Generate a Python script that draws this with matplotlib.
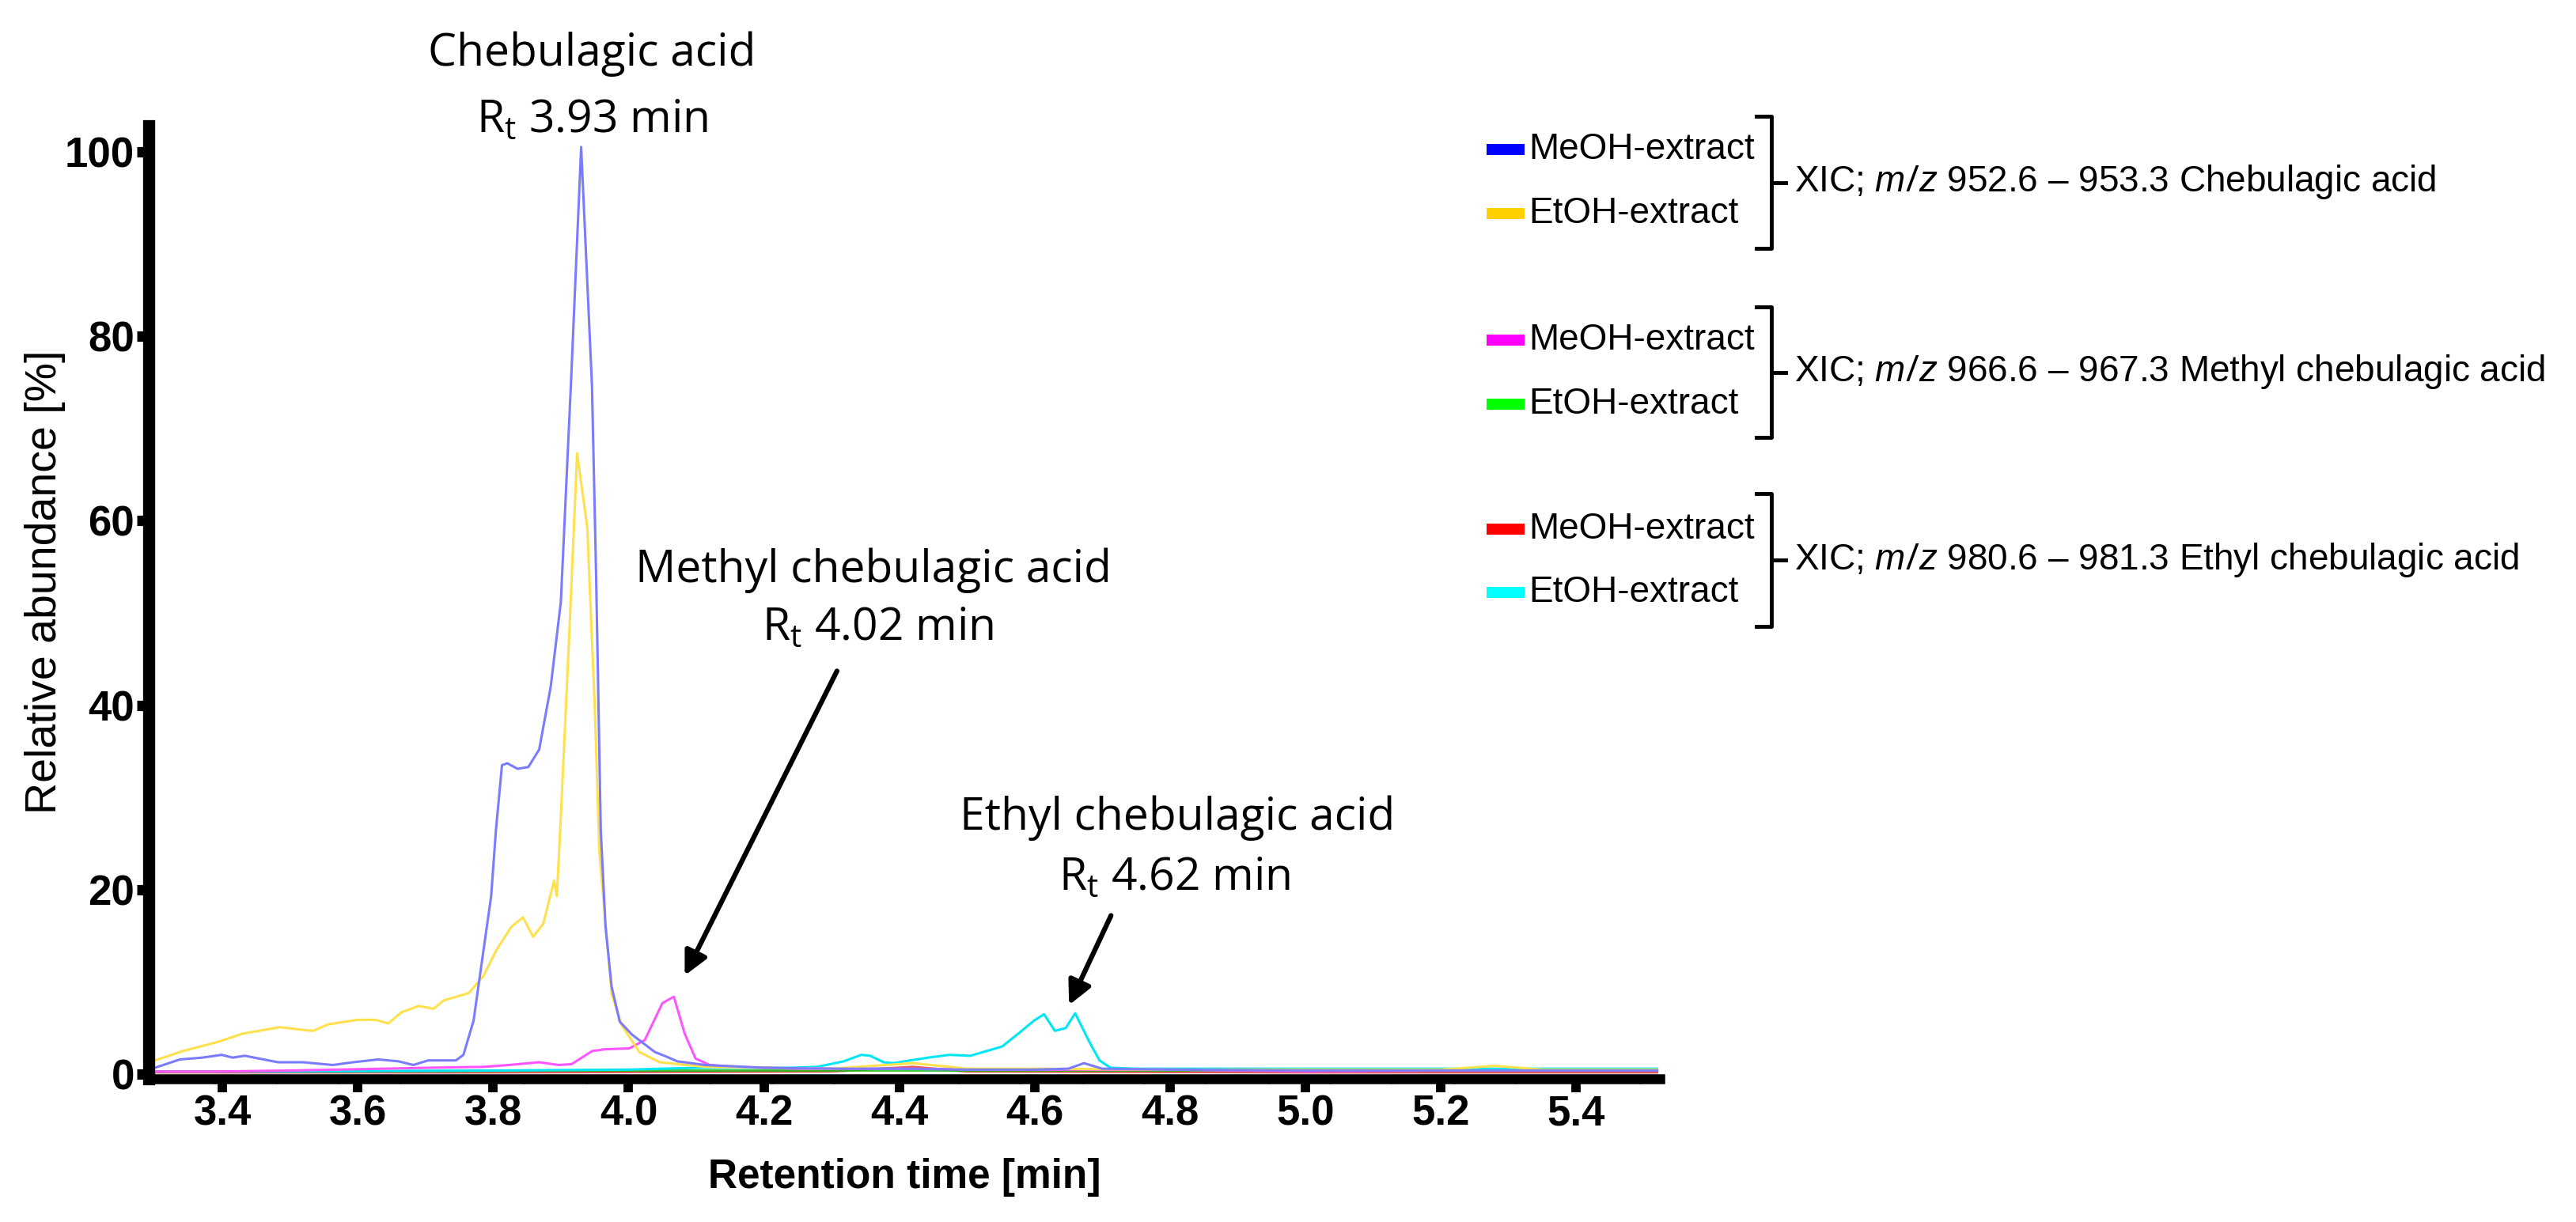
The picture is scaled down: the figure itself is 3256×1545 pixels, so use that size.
import numpy as np
import matplotlib
matplotlib.use("Agg")
import matplotlib.pyplot as plt
from matplotlib.patches import Rectangle
from matplotlib.lines import Line2D

plt.rcParams['mathtext.fontset'] = 'custom'
plt.rcParams['mathtext.rm'] = 'Open Sans'
plt.rcParams['mathtext.it'] = 'Liberation Sans:italic'

# --- data (time in min, relative abundance in %) ---
t_meoh_cheb = [3.29, 3.30, 3.337, 3.37, 3.399, 3.415, 3.433, 3.482, 3.519, 3.563, 3.593,
               3.63, 3.66, 3.682, 3.704, 3.745, 3.756, 3.771, 3.786, 3.797, 3.804, 3.813,
               3.821, 3.836, 3.852, 3.868, 3.885, 3.900, 3.915, 3.930, 3.946, 3.952, 3.959,
               3.966, 3.975, 3.987, 4.005, 4.039, 4.053, 4.072, 4.113, 4.2, 4.3, 4.4, 4.5,
               4.6, 4.65, 4.673, 4.7, 4.8, 5.0, 5.2, 5.4, 5.52]
y_meoh_cheb = [0.6, 0.7, 1.6, 1.8, 2.1, 1.8, 2.0, 1.3, 1.3, 1.0, 1.3,
               1.6, 1.4, 1.0, 1.5, 1.5, 2.1, 5.8, 13.6, 19.3, 26.4, 33.5,
               33.7, 33.1, 33.3, 35.2, 42.0, 51.2, 75.0, 100.5, 74.6, 54.4, 26.4,
               16.0, 9.5, 5.7, 4.3, 2.4, 2.0, 1.4, 1.0, 0.7, 0.6, 0.6, 0.5,
               0.5, 0.6, 1.2, 0.6, 0.5, 0.4, 0.4, 0.4, 0.4]

t_etoh_cheb = [3.29, 3.300, 3.341, 3.393, 3.430, 3.485, 3.519, 3.534, 3.556, 3.600, 3.626,
               3.645, 3.664, 3.690, 3.712, 3.727, 3.764, 3.786, 3.805, 3.827, 3.844, 3.859,
               3.874, 3.890, 3.894, 3.899, 3.912, 3.924, 3.939, 3.950, 3.957, 3.975, 3.990,
               4.016, 4.046, 4.113, 4.2, 4.3, 4.42, 4.5, 4.6, 4.8, 5.0, 5.2, 5.28, 5.35, 5.52]
y_etoh_cheb = [1.3, 1.5, 2.5, 3.5, 4.4, 5.1, 4.8, 4.7, 5.4, 5.9, 5.9,
               5.5, 6.7, 7.4, 7.1, 8.0, 8.8, 10.7, 13.5, 16.0, 17.0, 14.9,
               16.3, 21.0, 19.3, 26.4, 47.0, 67.3, 59.3, 40.0, 24.0, 8.7, 5.3,
               2.4, 1.3, 0.8, 0.7, 0.6, 1.2, 0.6, 0.6, 0.5, 0.5, 0.5, 0.9, 0.5, 0.5]

t_meoh_methyl = [3.29, 3.4, 3.5, 3.638, 3.704, 3.786, 3.823, 3.868, 3.897, 3.916, 3.946,
                 3.964, 4.001, 4.024, 4.050, 4.067, 4.083, 4.099, 4.120, 4.157, 4.25,
                 4.4, 4.6, 4.8, 5.0, 5.2, 5.52]
y_meoh_methyl = [0.3, 0.3, 0.4, 0.6, 0.7, 0.8, 1.0, 1.3, 1.0, 1.1, 2.5,
                 2.7, 2.8, 3.7, 7.7, 8.4, 4.4, 1.7, 1.0, 0.8, 0.6,
                 0.6, 0.5, 0.5, 0.3, 0.4, 0.4]

t_etoh_methyl = [3.29, 3.6, 3.9, 4.2, 4.5, 4.8, 5.1, 5.52]
y_etoh_methyl = [0.3, 0.3, 0.4, 0.4, 0.4, 0.4, 0.4, 0.4]

t_meoh_ethyl = [3.29, 3.8, 4.3, 4.42, 4.5, 5.0, 5.52]
y_meoh_ethyl = [0.2, 0.2, 0.3, 0.8, 0.3, 0.2, 0.2]

t_etoh_ethyl = [3.29, 3.5, 3.8, 4.0, 4.1, 4.2, 4.240, 4.279, 4.318, 4.344, 4.357, 4.377,
                4.392, 4.416, 4.443, 4.474, 4.505, 4.552, 4.576, 4.599, 4.614, 4.630,
                4.646, 4.660, 4.681, 4.696, 4.712, 4.75, 4.9, 5.1, 5.3, 5.52]
y_etoh_ethyl = [0.3, 0.3, 0.4, 0.5, 0.7, 0.7, 0.7, 0.8, 1.4, 2.1, 2.0, 1.3,
                1.2, 1.5, 1.8, 2.1, 2.0, 3.0, 4.4, 5.8, 6.5, 4.7,
                5.0, 6.6, 3.5, 1.5, 0.7, 0.6, 0.6, 0.6, 0.6, 0.6]

x_ticks = [3.4, 3.6, 3.8, 4.0, 4.2, 4.4, 4.6, 4.8, 5.0, 5.2, 5.4]
y_ticks = [0, 20, 40, 60, 80, 100]

legend_labels = ["MeOH-extract", "EtOH-extract"] * 3
legend_colors = ["#0000ff", "#ffd000", "#ff00ff", "#00ff00", "#ff0000", "#00ffff"]
group_labels = [r"XIC; $\mathit{m/z}$ 952.6 – 953.3 Chebulagic acid",
                r"XIC; $\mathit{m/z}$ 966.6 – 967.3 Methyl chebulagic acid",
                r"XIC; $\mathit{m/z}$ 980.6 – 981.3 Ethyl chebulagic acid"]

W, H = 3256, 1545
fig = plt.figure(figsize=(W / 100, H / 100), dpi=100)
ax = fig.add_axes([188 / W, 1 - 1364 / H, (2098 - 188) / W, (1364 - 159) / H])

# baseline traces first, peaks on top
ax.plot(t_meoh_ethyl, y_meoh_ethyl, color="#e03030", lw=2.2, alpha=0.8)
ax.plot(t_etoh_methyl, y_etoh_methyl, color="#10c010", lw=2.2, alpha=0.8)
ax.plot(t_etoh_ethyl, y_etoh_ethyl, color="#00e6f5", lw=2.2)
ax.plot(t_meoh_methyl, y_meoh_methyl, color="#ff55ff", lw=2.2)
ax.plot(t_etoh_cheb, y_etoh_cheb, color="#ffe04d", lw=2.2)
ax.plot(t_meoh_cheb, y_meoh_cheb, color="#7b7bff", lw=2.2)

ax.set_xlim(3.291, 5.524)
ax.set_ylim(-0.5, 102.8)
ax.set_xticks(x_ticks)
ax.set_xticklabels([f"{v:.1f}" for v in x_ticks])
ax.set_yticks(y_ticks)
ax.set_xticks(np.arange(3.296, 5.52, 0.0916), minor=True)

for s in ["top", "right"]:
    ax.spines[s].set_visible(False)
ax.spines["left"].set_linewidth(11)
ax.spines["bottom"].set_linewidth(9)

ax.tick_params(axis="x", which="major", length=12, width=8.5, pad=2, labelsize=38)
ax.tick_params(axis="x", which="minor", length=4, width=2)
ax.tick_params(axis="y", which="major", length=11, width=9.5, pad=2, labelsize=38)
for lab in ax.get_xticklabels() + ax.get_yticklabels():
    lab.set_family("Liberation Sans")
    lab.set_fontweight("bold")

ax.set_xlabel("Retention time [min]", family="Liberation Sans", fontweight="bold",
              fontsize=37, labelpad=22)
ax.set_ylabel("Relative abundance [%]", family="Liberation Sans", fontsize=40)
ax.yaxis.set_label_coords(-0.055, 0.521)

# peak annotations
ann = dict(family="Open Sans", fontsize=41, ha="center", va="center", clip_on=False)
ax.text(3.946, 110.6, "Chebulagic acid", **ann)
ax.text(3.946, 103.4, r"R$_{\mathrm{t}}$ 3.93 min", **ann)
ax.text(4.362, 54.6, "Methyl chebulagic acid", **ann)
ax.text(4.369, 48.3, r"R$_{\mathrm{t}}$ 4.02 min", **ann)
ax.text(4.811, 27.8, "Ethyl chebulagic acid", **ann)
ax.text(4.807, 21.2, r"R$_{\mathrm{t}}$ 4.62 min", **ann)

arrow = dict(arrowstyle="-|>", lw=4.5, color="black", mutation_scale=45, shrinkA=0, shrinkB=0)
ax.annotate("", xy=(4.083, 10.7), xytext=(4.308, 43.7), arrowprops=arrow)
ax.annotate("", xy=(4.651, 7.5), xytext=(4.713, 17.2), arrowprops=arrow)

# custom legend with brackets
row_y = [189, 270, 430, 511, 669, 749]
for py, lab, col in zip(row_y, legend_labels, legend_colors):
    fig.add_artist(Rectangle((1879 / W, 1 - (py + 7) / H), 48 / W, 14 / H,
                             transform=fig.transFigure, color=col, lw=0))
    fig.text(1932 / W, 1 - py / H, lab, family="Liberation Sans", fontsize=33,
             ha="left", va="center")

brackets = [(147, 314), (388, 553), (624, 792)]
for (top, bot), lab in zip(brackets, group_labels):
    mid = (top + bot) / 2
    xs = [2220 / W, 2239 / W, 2239 / W, 2220 / W]
    ys = [1 - top / H, 1 - top / H, 1 - bot / H, 1 - bot / H]
    fig.add_artist(Line2D(xs, ys, transform=fig.transFigure, color="black", lw=3.5,
                          solid_joinstyle="round"))
    fig.add_artist(Line2D([2239 / W, 2257 / W], [1 - mid / H, 1 - mid / H],
                          transform=fig.transFigure, color="black", lw=3.5))
    fig.text(2268 / W, 1 - mid / H, lab, family="Liberation Sans", fontsize=33,
             ha="left", va="center")

fig.savefig("out.png", dpi=100, facecolor="white")
